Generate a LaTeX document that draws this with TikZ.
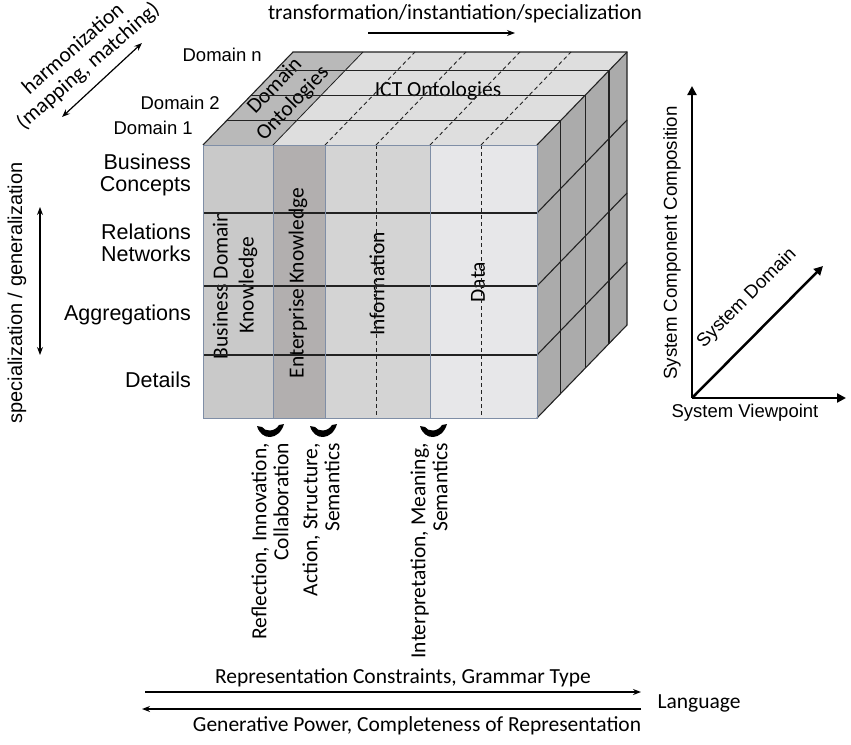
\documentclass[tikz,border=0pt]{standalone}
\usepackage{fontspec}
\setmainfont{Carlito}
\newfontfamily\arial{Liberation Sans}
\usetikzlibrary{arrows.meta}
\definecolor{colA}{HTML}{C9C9C9}
\definecolor{colB}{HTML}{B2AFAF}
\definecolor{colC}{HTML}{D4D4D4}
\definecolor{colD}{HTML}{E7E7E9}
\definecolor{topL}{HTML}{DEDEDE}
\definecolor{topD}{HTML}{B9B9B9}
\definecolor{sideC}{HTML}{ABABAB}
\definecolor{edgeB}{HTML}{7F8EA6}
\definecolor{lineK}{HTML}{222222}
\begin{document}
\begin{tikzpicture}[x=1pt,y=-1pt,
  cal/.style={font=\fontsize{21.5}{22}\selectfont, inner sep=0pt},
  ar/.style={font=\arial\fontsize{21.5}{22}\selectfont, inner sep=0pt},
  ars/.style={font=\arial\fontsize{18.5}{20}\selectfont, inner sep=0pt},
  kline/.style={draw=lineK, line width=1.1pt},
  bline/.style={draw=edgeB, line width=1pt},
  dline/.style={draw=lineK, line width=0.9pt, dash pattern=on 4pt off 3pt},
  thinarrow/.style={draw=black, line width=1.2pt, -{Stealth[length=8pt,width=6pt]}},
  twoarrow/.style={draw=black, line width=1.2pt, {Stealth[length=8pt,width=6pt]}-{Stealth[length=8pt,width=6pt]}},
  axisarrow/.style={draw=black, line width=2.5pt, -{Triangle[length=9pt,width=9pt]}},
  bracefill/.style={fill=black}]
\useasboundingbox (0,0) rectangle (851,744);

% cube corners
\coordinate (F1) at (203,145);
\coordinate (F2) at (537,145);
\coordinate (F3) at (537,418);
\coordinate (F4) at (203,418);
\coordinate (B1) at (293,52);
\coordinate (B2) at (627,52);
\coordinate (B3) at (627,325);

% front face columns
\fill[colA] (203,145) rectangle (273,418);
\fill[colB] (273,145) rectangle (325,418);
\fill[colC] (325,145) rectangle (430,418);
\fill[colD] (430,145) rectangle (537,418);
% top face
\fill[topL] (F1) -- (F2) -- (B2) -- (B1) -- cycle;
\fill[topD] (203,145) -- (273,145) -- (363,52) -- (293,52) -- cycle;
% right face
\fill[sideC] (F2) -- (B2) -- (B3) -- (F3) -- cycle;

% texts lying under lines
\node[cal] (ict) at (438,91) {ICT Ontologies};
\node[cal, rotate=46, align=center, font=\fontsize{21.5}{25}\selectfont] (domont) at (284,95) {Domain\\Ontologies};
\node[cal, rotate=90, align=center, font=\fontsize{21.5}{26}\selectfont] (bdk) at (235,285) {Business Domain\\Knowledge};
\node[cal, rotate=90] (ek) at (298,283) {Enterprise Knowledge};
\node[cal, rotate=90] (inf) at (377,284) {Information};
\node[cal, rotate=90] (dat) at (478,282) {Data};

% slab boundaries (top and right face)
\foreach \f in {0.265,0.535,0.8}{
  \draw[kline] ({203+90*\f},{145-93*\f}) -- ({537+90*\f},{145-93*\f}) -- ({537+90*\f},{418-93*\f});
}
% dashed lines on top face
\foreach \x in {325,376,430,481}{
  \draw[dline] (\x,145) -- ({\x+90},52);
}
\draw[kline, line width=0.8pt] (273,145) -- (363,52);
% row lines on right face
\foreach \y in {213,286,355}{
  \draw[kline] (537,\y) -- (627,{\y-93});
}
% row lines on front face
\foreach \y in {213,286,355}{
  \draw[kline] (203,\y) -- (537,\y);
}
% front verticals
\foreach \x in {273,325,430}{
  \draw[bline] (\x,145) -- (\x,418);
}
\foreach \x in {376,481}{
  \draw[dline] (\x,145) -- (\x,418);
}
% outlines
\draw[kline] (F1) -- (B1) -- (B2) -- (B3) -- (F3);
\draw[kline] (F2) -- (B2);
\draw[bline] (F1) rectangle (F3);

% domain labels
\node[ars, anchor=east] (dn) at (262,55) {Domain n};
\node[ars, anchor=east] (d2) at (220,103) {Domain 2};
\node[ars, anchor=east] (d1) at (193,128) {Domain 1};

% left labels
\node[ar, anchor=east, align=right] (bc) at (191,175) {Business\\Concepts};
\node[ar, anchor=east, align=right] (rn) at (191,243) {Relations\\Networks};
\node[ar, anchor=east] (ag) at (191,315) {Aggregations};
\node[ar, anchor=east] (de) at (191,380) {Details};
\node[ar, rotate=90, font=\arial\fontsize{20}{21}\selectfont] (spec) at (17,293) {specialization / generalization};
\coordinate (sa) at (40,207);
\coordinate (sb) at (40,355);
\draw[twoarrow] (sa) -- (sb);

% harmonization
\node[cal, rotate=41, align=center, font=\fontsize{21.5}{23}\selectfont] (harm) at (81,58) {harmonization\\(mapping, matching)};
\coordinate (ha) at (62,117);
\coordinate (hb) at (142,43);
\draw[twoarrow] (ha) -- (hb);

% top transformation
\node[cal] (trans) at (455,14) {transformation/instantiation/specialization};
\coordinate (ta) at (368,33);
\coordinate (tb) at (515,33);
\draw[thinarrow] (ta) -- (tb);

% rotated texts below
\node[cal, rotate=90, anchor=east, align=right] (r1) at (270,443) {Reflection, Innovation,\\Collaboration};
\node[cal, rotate=90, anchor=east, align=right] (r2) at (321,443) {Action, Structure,\\Semantics};
\node[cal, rotate=90, anchor=east, align=right] (r3) at (429,443) {Interpretation, Meaning,\\Semantics};

% braces under front face (smile shaped)
\fill[bracefill] (257,426) .. controls (261,441) and (279,441) .. (284,424)
   -- (279,425) .. controls (275,432) and (265,432) .. (262,427) -- cycle;
\fill[bracefill] (310,426) .. controls (314,441) and (332,441) .. (337,424)
   -- (332,425) .. controls (328,432) and (318,432) .. (315,427) -- cycle;
\fill[bracefill] (420,426) .. controls (424,441) and (442,441) .. (447,424)
   -- (442,425) .. controls (438,432) and (428,432) .. (425,427) -- cycle;

% bottom language arrows
\node[cal] (rc) at (403,678) {Representation Constraints, Grammar Type};
\node[cal] (gp) at (417,726) {Generative Power, Completeness of Representation};
\node[cal] (lang) at (699,703) {Language};
\coordinate (la) at (145,692);
\coordinate (lb) at (641,692);
\coordinate (lc) at (641,709);
\coordinate (ld) at (142,709);
\draw[thinarrow, line width=1.6pt] (la) -- (lb);
\draw[thinarrow, line width=1.6pt] (lc) -- (ld);

% axes on the right
\coordinate (O) at (692,398);
\coordinate (Y) at (692,86);
\coordinate (X) at (846,398);
\coordinate (Z) at (823,266);
\draw[axisarrow] (O) -- (Y);
\draw[axisarrow] (O) -- (X);
\draw[axisarrow] (O) -- (Z);
\node[ar, rotate=90, font=\arial\fontsize{18.7}{20}\selectfont] (scc) at (672,243) {System Component Composition};
\node[ar, rotate=45, font=\arial\fontsize{18.7}{20}\selectfont] (sd) at (747,298) {System Domain};
\node[ar, font=\arial\fontsize{18.5}{20}\selectfont] (sv) at (745,413) {System Viewpoint};
\end{tikzpicture}
\end{document}
